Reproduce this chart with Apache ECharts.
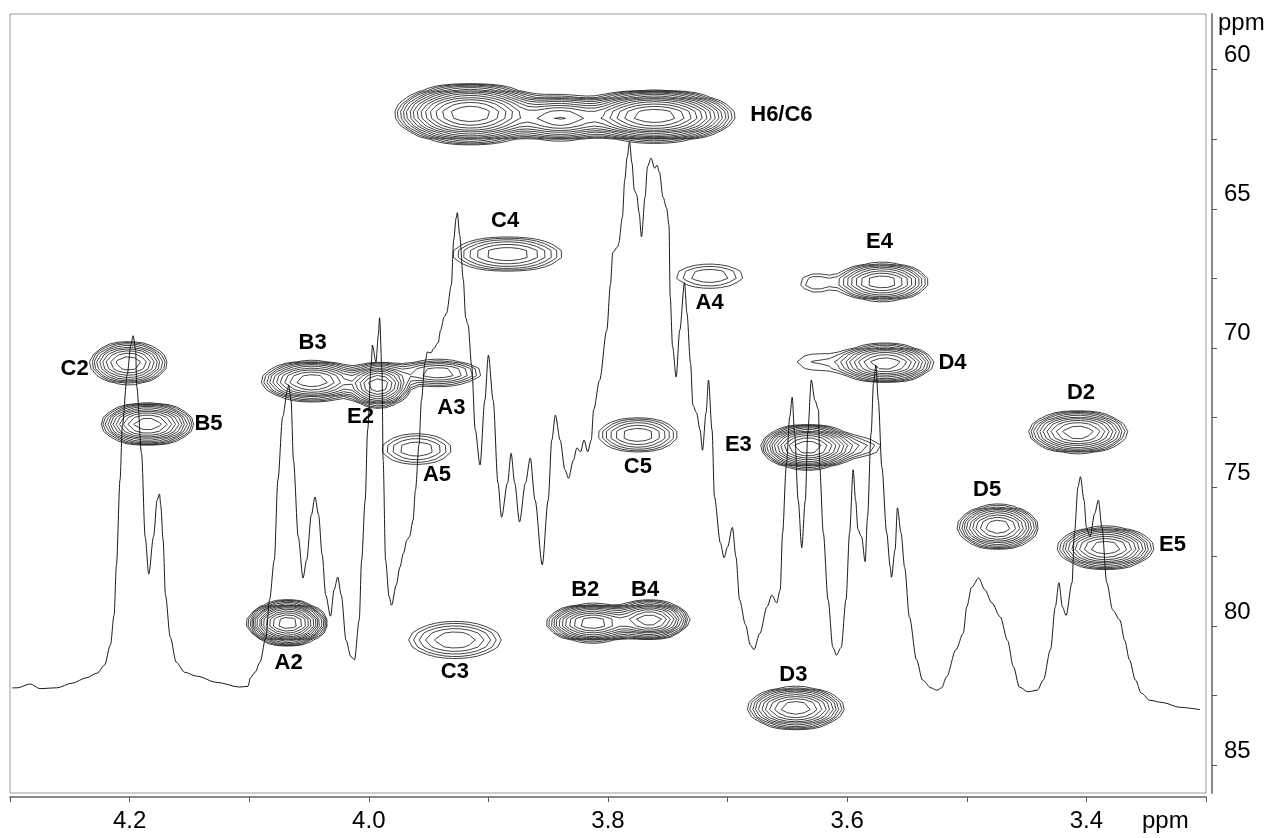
<!DOCTYPE html>
<html><head><meta charset="utf-8">
<script src="https://cdn.jsdelivr.net/npm/echarts@6/dist/echarts.min.js"></script>
<style>html,body{margin:0;padding:0;background:#fff}#c{width:1283px;height:838px}</style>
</head><body><div id="c"></div>
<script>
// ---- 1D 1H trace (ppm, relative intensity %) ----
const specPpm = [4.298,4.294,4.283,4.275,4.261,4.248,4.236,4.227,4.221,4.216,4.213,4.211,4.208,4.206,4.202,4.199,4.197,4.195,4.194,4.190,4.187,4.184,4.180,4.177,4.175,4.174,4.172,4.170,4.166,4.161,4.154,4.144,4.127,4.108,4.101,4.099,4.095,4.091,4.086,4.083,4.079,4.076,4.072,4.068,4.067,4.065,4.063,4.059,4.055,4.052,4.048,4.045,4.042,4.039,4.036,4.032,4.029,4.026,4.023,4.019,4.015,4.012,4.008,4.006,4.003,4.001,3.998,3.997,3.994,3.992,3.991,3.989,3.988,3.986,3.983,3.981,3.977,3.974,3.971,3.968,3.966,3.963,3.961,3.958,3.956,3.953,3.951,3.948,3.946,3.942,3.940,3.937,3.935,3.931,3.929,3.927,3.926,3.924,3.921,3.919,3.917,3.914,3.911,3.907,3.903,3.900,3.896,3.892,3.889,3.884,3.881,3.878,3.874,3.869,3.865,3.861,3.855,3.850,3.847,3.844,3.840,3.836,3.833,3.829,3.826,3.823,3.820,3.817,3.814,3.812,3.807,3.801,3.798,3.796,3.792,3.791,3.788,3.786,3.784,3.782,3.780,3.778,3.776,3.774,3.772,3.769,3.767,3.764,3.761,3.759,3.757,3.754,3.751,3.749,3.748,3.746,3.743,3.740,3.736,3.734,3.731,3.729,3.726,3.723,3.721,3.718,3.716,3.713,3.711,3.706,3.703,3.700,3.696,3.693,3.690,3.685,3.681,3.678,3.673,3.667,3.663,3.659,3.656,3.654,3.651,3.648,3.646,3.644,3.641,3.638,3.635,3.633,3.630,3.627,3.624,3.623,3.620,3.616,3.612,3.609,3.605,3.601,3.598,3.595,3.593,3.591,3.588,3.585,3.583,3.580,3.578,3.576,3.574,3.571,3.567,3.564,3.563,3.560,3.558,3.555,3.552,3.548,3.542,3.537,3.530,3.525,3.521,3.517,3.509,3.503,3.500,3.496,3.490,3.485,3.479,3.472,3.466,3.461,3.456,3.449,3.441,3.436,3.430,3.426,3.423,3.420,3.417,3.412,3.410,3.407,3.405,3.402,3.400,3.397,3.393,3.390,3.387,3.383,3.378,3.372,3.368,3.364,3.359,3.354,3.347,3.336,3.322,3.305];
const specInt = [13.5,13.5,14.0,13.4,13.5,14.1,14.8,15.4,16.4,19.0,22.8,29.3,40.2,47.2,53.7,57.5,58.7,56.9,52.1,43.6,32.9,28.1,32.9,37.6,38.4,37.0,32.5,25.4,20.0,16.8,15.5,15.0,14.2,13.6,13.7,14.8,15.5,16.8,20.0,24.8,29.9,40.2,48.3,51.7,52.4,50.4,42.7,32.9,27.6,29.9,35.7,38.0,35.7,30.6,25.4,22.7,26.1,27.7,25.4,19.6,17.5,17.1,22.2,29.9,37.6,46.6,54.9,57.5,55.3,58.8,61.0,54.3,42.7,29.9,25.2,24.1,26.7,29.0,30.8,32.5,32.9,35.0,38.9,44.7,50.4,55.3,56.6,56.5,57.0,57.8,59.4,61.1,61.6,65.2,71.0,73.8,74.5,71.6,65.9,61.0,60.1,54.9,46.6,42.1,50.4,56.2,50.4,39.8,35.4,39.8,43.6,39.8,34.8,39.8,43.0,37.6,29.3,37.6,45.3,48.5,45.3,41.5,40.4,42.7,44.3,43.8,45.3,43.8,45.3,49.2,53.0,59.4,65.2,69.4,70.1,70.6,73.9,78.7,81.6,83.6,80.9,77.4,76.8,74.5,71.4,76.5,80.4,81.5,80.2,80.6,79.7,76.5,75.1,72.9,63.7,57.3,53.4,59.4,65.5,61.6,55.2,49.8,48.8,46.6,44.0,48.8,53.0,46.6,38.0,32.1,30.2,31.6,34.1,30.3,24.8,21.6,19.0,18.4,20.5,23.9,25.4,24.4,26.1,33.4,41.8,48.3,50.8,46.2,37.6,31.5,37.6,46.2,53.0,50.4,49.2,41.8,33.4,24.8,18.7,17.7,18.7,24.8,33.4,41.5,37.6,33.8,32.9,29.7,35.4,46.2,52.6,54.9,50.4,41.8,33.4,29.0,27.7,31.2,36.6,33.4,29.0,22.6,17.1,14.5,13.5,13.2,13.5,14.9,18.4,20.5,23.9,26.4,27.6,26.1,24.4,22.6,19.6,16.2,13.6,13.0,13.2,14.5,18.4,23.9,27.0,23.9,22.8,27.0,33.4,39.3,40.6,37.6,34.1,32.9,35.9,37.6,34.1,27.0,23.5,22.2,19.6,17.1,14.5,12.8,11.9,11.6,11.0,10.7];

// ---- 2D cross peaks: 1H shift, 13C shift, outer-contour half extent (ppm), number of contour levels ----
const peakH      = [3.915,3.840,3.761,3.884,3.715,3.571,3.627,4.201,4.0475,3.992,3.942,3.568,3.627,4.185,3.407,3.775,3.633,3.589,3.960,3.474,3.384,4.068,3.813,3.765,3.928,3.643];
const peakC      = [61.59,61.74,61.67,66.63,67.42,67.63,67.67,70.55,71.19,71.34,70.90,70.55,70.51,72.74,73.03,73.13,73.56,73.56,73.64,76.44,77.19,79.89,79.89,79.78,80.50,82.95];
const peakHalfH  = [0.063,0.045,0.067,0.046,0.028,0.0385,0.012,0.032,0.042,0.027,0.036,0.040,0.015,0.0385,0.041,0.033,0.039,0.017,0.029,0.0334,0.040,0.0334,0.038,0.033,0.0385,0.040];
const peakHalfC  = [1.08,0.80,0.93,0.61,0.43,0.68,0.32,0.755,0.72,0.79,0.46,0.68,0.28,0.755,0.755,0.61,0.79,0.3,0.54,0.79,0.755,0.79,0.68,0.68,0.65,0.755];
const peakLevels = [14,10,14,6,3,9,2,9,10,11,6,10,1,11,10,6,12,2,4,10,10,14,11,11,5,10];

// ---- assignment labels ----
const labelText = ['H6/C6','C4','A4','E4','C2','B3','E2','A3','D4','B5','D2','E3','A5','C5','D5','E5','A2','C3','B2','B4','D3'];
const labelH    = [3.655,3.886,3.715,3.573,4.246,4.047,4.007,3.931,3.512,4.134,3.4045,3.691,3.943,3.775,3.483,3.328,4.067,3.928,3.819,3.769,3.645];
const labelC    = [61.63,65.44,68.39,66.20,70.76,69.83,72.49,72.16,70.55,72.74,71.62,73.49,74.57,74.28,75.11,77.09,81.33,81.65,78.70,78.70,81.76];

// ---- axes ----
const xTickLabels = [4.2,4.0,3.8,3.6,3.4];
const xTicks = [4.3,4.2,4.1,4.0,3.9,3.8,3.7,3.6,3.5,3.4,3.3];
const yTickLabels = [60,65,70,75,80,85];
const yTicks = [60,62.5,65,67.5,70,72.5,75,77.5,80,82.5,85];
const xUnitPos = 3.334;

// ---- contour computation (marching squares on Gaussian model of the peaks) ----
const M = 1.3, NLEV = 18;
const gx = [], gy = [];
for (let x = 3.3; x <= 4.3001; x += 0.007) gx.push(x);
for (let y = 58; y <= 86.001; y += 0.25) gy.push(y);
const peaks = peakH.map((h, i) => {
  const n = peakLevels[i], k = Math.sqrt(2 * n * Math.log(M));
  return {h, c: peakC[i], A: Math.pow(M, n), sx: peakHalfH[i] / k, sy: peakHalfC[i] / k};
});
const F = gy.map(y => gx.map(x => {
  let s = 0;
  for (const p of peaks) {
    const dx = (x - p.h) / p.sx, dy = (y - p.c) / p.sy;
    const e = 0.5 * (dx * dx + dy * dy);
    if (e < 30) s += p.A * Math.exp(-e);
  }
  return s;
}));
const segs = [];
const table = {1:[[3,0]],2:[[0,1]],3:[[3,1]],4:[[1,2]],6:[[0,2]],7:[[3,2]],8:[[2,3]],9:[[0,2]],11:[[1,2]],12:[[1,3]],13:[[0,1]],14:[[3,0]]};
for (let L = 0; L < NLEV; L++) {
  const lev = Math.pow(M, L);
  for (let j = 0; j < gy.length - 1; j++) for (let i = 0; i < gx.length - 1; i++) {
    const v0 = F[j][i], v1 = F[j][i+1], v2 = F[j+1][i+1], v3 = F[j+1][i];
    const c = (v0 >= lev ? 1 : 0) | (v1 >= lev ? 2 : 0) | (v2 >= lev ? 4 : 0) | (v3 >= lev ? 8 : 0);
    if (c === 0 || c === 15) continue;
    const ep = e => {
      let t;
      if (e === 0) { t = (lev - v0) / (v1 - v0); return [gx[i] + t * (gx[i+1] - gx[i]), gy[j]]; }
      if (e === 1) { t = (lev - v1) / (v2 - v1); return [gx[i+1], gy[j] + t * (gy[j+1] - gy[j])]; }
      if (e === 2) { t = (lev - v2) / (v3 - v2); return [gx[i+1] + t * (gx[i] - gx[i+1]), gy[j+1]]; }
      t = (lev - v3) / (v0 - v3); return [gx[i], gy[j+1] + t * (gy[j] - gy[j+1])];
    };
    let pairs;
    const center = (v0 + v1 + v2 + v3) / 4 >= lev;
    if (c === 5) pairs = center ? [[0,1],[2,3]] : [[3,0],[1,2]];
    else if (c === 10) pairs = center ? [[3,0],[1,2]] : [[0,1],[2,3]];
    else pairs = table[c];
    for (const [a, b] of pairs) {
      const p = ep(a), q = ep(b);
      segs.push([p[0], p[1], q[0], q[1]]);
    }
  }
}

const FONT = 'Liberation Sans, Arial, Helvetica, sans-serif';
const chart = echarts.init(document.getElementById('c'), null, {renderer: 'canvas'});
chart.setOption({
  animation: false,
  backgroundColor: '#fff',
  grid: {left: 10, right: 77, top: 14, bottom: 45, show: true, borderColor: '#9a9a9a', borderWidth: 1, backgroundColor: 'transparent'},
  xAxis: {
    type: 'value', min: 3.3, max: 4.3, inverse: true, position: 'bottom', offset: 4,
    splitLine: {show: false},
    axisLine: {show: true, onZero: false, lineStyle: {color: '#8a8a8a', width: 2}},
    axisTick: {show: true, inside: false, length: 5, customValues: xTicks, lineStyle: {color: '#555'}},
    axisLabel: {show: true, margin: 12, customValues: xTickLabels.concat([xUnitPos]), color: '#000', fontSize: 24, fontFamily: FONT,
      formatter: v => (v === xUnitPos ? 'ppm' : v.toFixed(1))}
  },
  yAxis: [{
    type: 'value', min: 58, max: 86, inverse: true, position: 'right', offset: 6,
    name: 'ppm', nameLocation: 'start', nameGap: -9,
    nameTextStyle: {color: '#000', fontSize: 24, fontFamily: FONT, align: 'left', verticalAlign: 'middle', padding: [0, 0, 0, 6]},
    splitLine: {show: false},
    axisLine: {show: true, lineStyle: {color: '#8a8a8a', width: 2}},
    axisTick: {show: true, inside: false, length: 5, customValues: yTicks, lineStyle: {color: '#555'}},
    axisLabel: {show: true, margin: 12, customValues: yTickLabels, color: '#000', fontSize: 24, fontFamily: FONT,
      verticalAlign: 'bottom', lineHeight: 28}
  }, {
    type: 'value', min: 0, max: 100, show: false
  }],
  series: [{
    type: 'line', xAxisIndex: 0, yAxisIndex: 1,
    data: specPpm.map((p, i) => [p, specInt[i]]),
    showSymbol: false, smooth: 0.3, smoothMonotone: 'x',
    lineStyle: {color: '#000', width: 0.9}, clip: true, z: 3
  }, {
    type: 'custom', xAxisIndex: 0, yAxisIndex: 0, clip: true,
    data: segs, encode: {x: [0, 2], y: [1, 3]},
    renderItem: (params, api) => {
      const a = api.coord([api.value(0), api.value(1)]);
      const b = api.coord([api.value(2), api.value(3)]);
      return {type: 'line', shape: {x1: a[0], y1: a[1], x2: b[0], y2: b[1]}, style: {stroke: '#111', lineWidth: 0.8}};
    }, z: 4
  }, {
    type: 'scatter', xAxisIndex: 0, yAxisIndex: 0, symbolSize: 0,
    itemStyle: {opacity: 1},
    data: labelText.map((t, i) => ({name: t, value: [labelH[i], labelC[i]]})),
    label: {show: true, position: 'inside', formatter: '{b}', color: '#000', opacity: 1, fontSize: 22, fontWeight: 'bold', fontFamily: FONT},
    emphasis: {disabled: true},
    z: 5
  }]
});
</script></body></html>
